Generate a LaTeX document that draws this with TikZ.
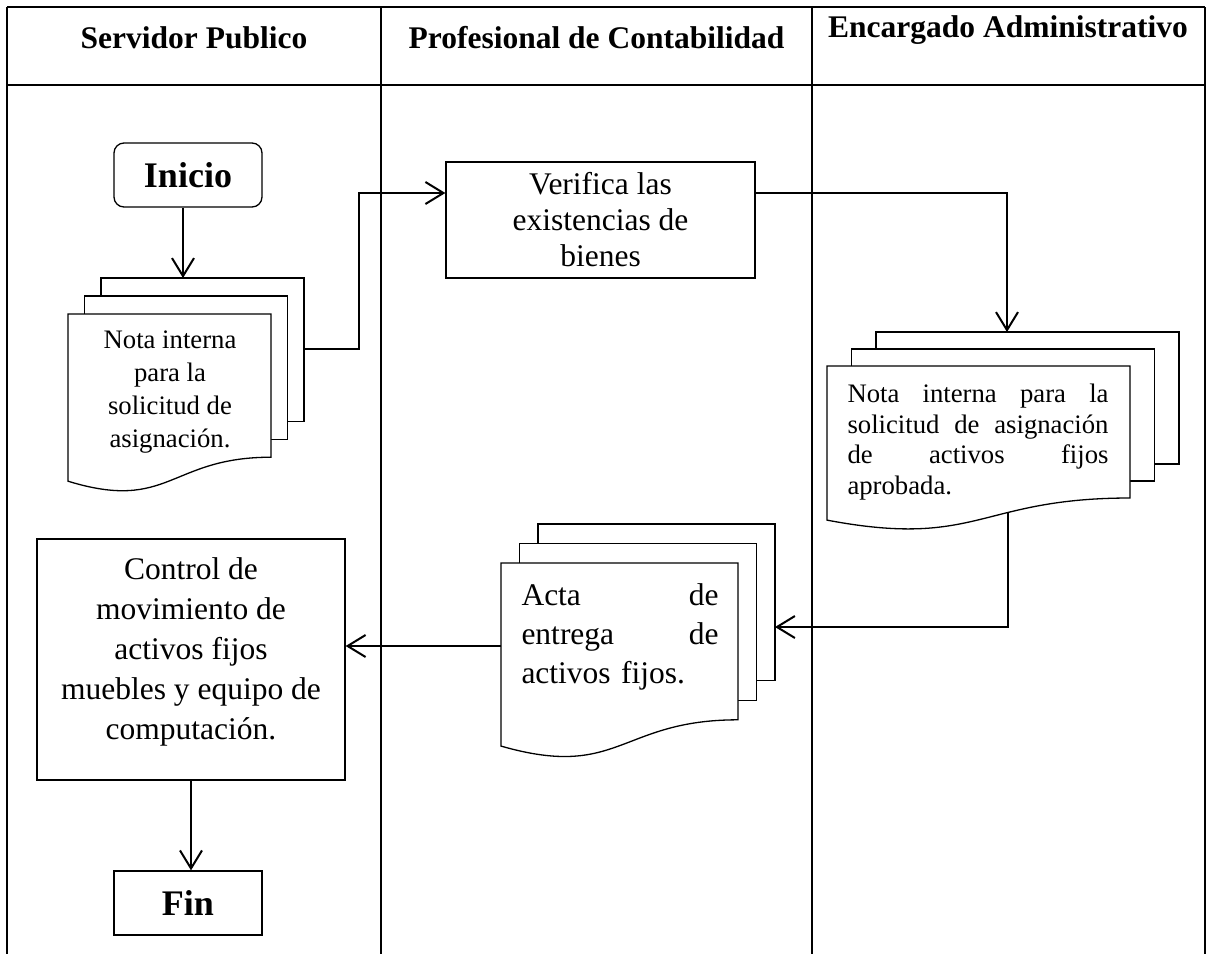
\documentclass[tikz,border=0pt]{standalone}
\usepackage{fontspec}
\setmainfont{Liberation Serif}
\usetikzlibrary{arrows.meta, positioning, calc}

% multiple document: name, left, top, width, height, dx, dy
\newcommand{\multidoc}[7]{%
  \foreach \k in {2,1} {
    \draw [sheet] ({#2+\k*#6},{#3-\k*#7}) rectangle ++(#4,{0.8*#5});
  }
  \draw [sheet] (#2,#3) -- ++(#4,0) -- ++(0,{0.8*#5})
    .. controls ({#2+#4/2},{#3+0.8*#5}) and ({#2+#4/2},{#3+1.108*#5}) .. (#2,{#3+0.934*#5}) -- cycle;
  \coordinate (#1) at ({#2+#4/2},{#3+0.45*#5});
}
% justified line of fixed width
\newcommand{\jline}[2]{\leavevmode\hbox to #1{#2}}

\begin{document}
\begin{tikzpicture}[x=1pt, y=-1pt,
    lane/.style={draw=black, line width=2.2pt},
    header/.style={anchor=base, inner sep=0pt, font=\bfseries\fontsize{31.5}{36}\selectfont},
    terminal/.style={rectangle, draw=black, line width=1.3pt, minimum width=148pt, minimum height=64pt, inner sep=0pt, font=\bfseries\fontsize{36}{40}\selectfont},
    process/.style={rectangle, draw=black, line width=1.3pt, align=center, inner sep=0pt},
    sheet/.style={draw=black, fill=white, line width=1.3pt},
    doctext/.style={inner sep=0pt},
    line/.style={draw=black, line width=2pt, -{Straight Barb[length=18pt, width=22pt]}}]

    \useasboundingbox (0,0) rectangle (1206,954);

    % swimlanes
    \draw [lane] (7,7) -- (1205,7);
    \draw [lane] (7,85) -- (1205,85);
    \draw [lane] (7,7) -- (7,954);
    \draw [lane] (381,7) -- (381,954);
    \draw [lane] (812,7) -- (812,954);
    \draw [lane] (1205,7) -- (1205,954);

    \node [header] (servidor) at (194,48) {Servidor Publico};
    \node [header] (contabilidad) at (596.5,48) {Profesional de Contabilidad};
    \node [header] (encargado) at (1008,37) {Encargado Administrativo};

    % boxes
    \node [terminal, rounded corners=10pt] (inicio) at (188,175) {Inicio};
    \node [process, minimum width=309pt, minimum height=116pt, font=\fontsize{31.5}{36}\selectfont] (verifica) at (600.5,220) {Verifica las\\existencias de\\bienes};
    \node [process, minimum width=308pt, minimum height=241pt, text depth=21pt, font=\fontsize{31.5}{40}\selectfont] (control) at (191,659.5) {Control de\\movimiento de\\activos fijos\\muebles y equipo de\\computación.};
    \node [terminal] (fin) at (188,903) {Fin};

    % documents
    \multidoc{nota1}{68}{314}{203}{179}{16.5}{18}
    \multidoc{nota2}{827}{366}{303}{165}{24.5}{17}
    \multidoc{acta}{501}{563}{237}{196}{18.5}{19.5}

    \node [doctext, align=center, font=\fontsize{26.7}{33}\selectfont] (nota1text) at (170,392) {Nota interna\\para la\\solicitud de\\asignación.};
    \node [doctext, text width=261pt, align=left, font=\fontsize{26.7}{30.5}\selectfont] (nota2text) at (978,442) {\jline{261pt}{Nota\hfill interna\hfill para\hfill la}\\\jline{261pt}{solicitud\hfill de\hfill asignación}\\\jline{261pt}{de\hfill activos\hfill fijos}\\aprobada.};
    \node [doctext, text width=197pt, align=left, font=\fontsize{31.5}{39}\selectfont] (actatext) at (620,637) {\jline{197pt}{Acta\hfill de}\\\jline{197pt}{entrega\hfill de}\\activos fijos.};

    % connector ends
    \coordinate (nota1-in) at (183,278);
    \coordinate (nota1-out) at (304,349);
    \coordinate (bend1) at (359,193);
    \coordinate (nota2-in) at (1007,332);
    \coordinate (nota2-out) at (1008,512);
    \coordinate (acta-in) at (775,627);
    \coordinate (acta-out) at (501,646);

    \path [line] (inicio.south -| nota1-in) -- (nota1-in);
    \path [line] (nota1-out) -| (bend1) -- (bend1 -| verifica.west);
    \path [line] (verifica.east |- bend1) -| (nota2-in);
    \path [line] (nota2-out) |- (acta-in);
    \path [line] (acta-out) -- (acta-out -| control.east);
    \path [line] (control.south) -- (control.south |- fin.north);
\end{tikzpicture}
\end{document}
